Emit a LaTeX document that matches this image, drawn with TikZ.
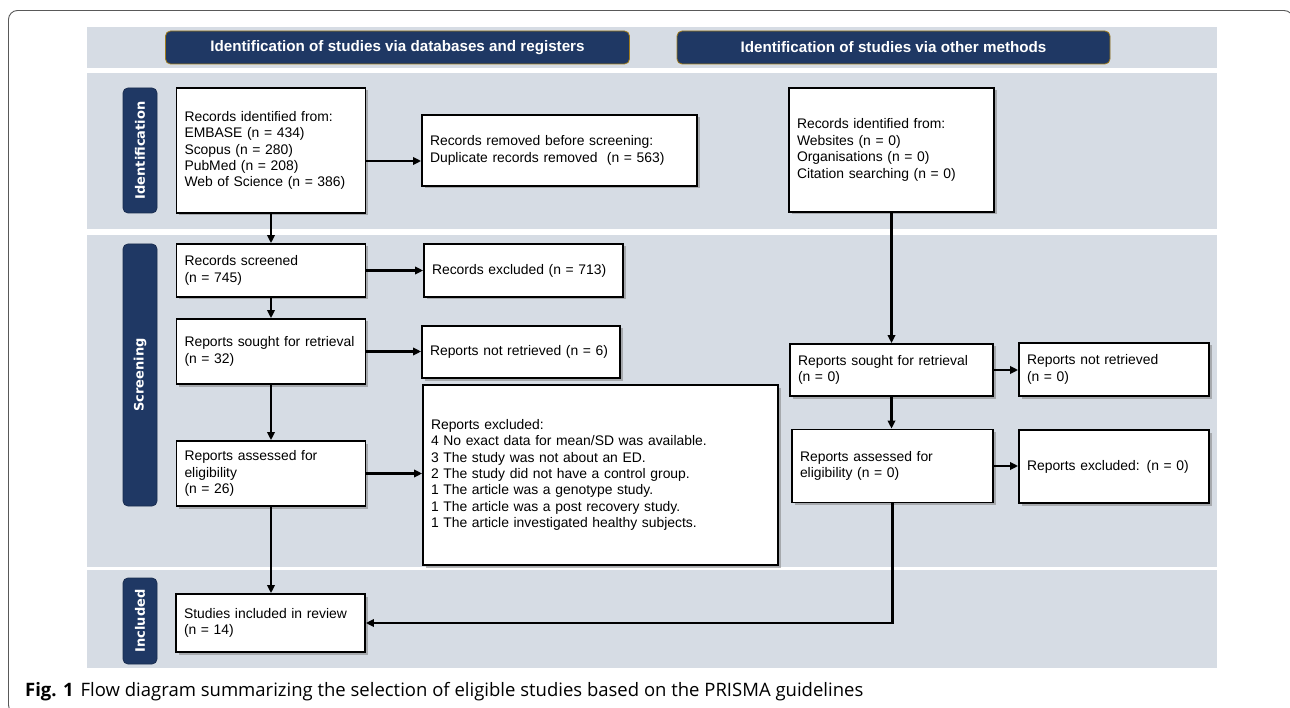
\documentclass[tikz,border=0pt]{standalone}
\usepackage{fontspec}
\setmainfont{Liberation Sans}
\newfontfamily\lblfont{DejaVu Sans}
\newfontfamily\capfont{Open Sans}
\usetikzlibrary{arrows.meta,shadows,calc}
\definecolor{band}{HTML}{D6DCE4}
\definecolor{navy}{HTML}{1F3864}
\definecolor{gold}{HTML}{A07C1C}
\begin{document}
\begin{tikzpicture}[x=1pt,y=-1pt,
  bx/.style={draw=black, line width=1.8pt, fill=white, align=left,
    inner xsep=8pt, inner ysep=2pt,
    font=\fontsize{13.9}{16.4}\selectfont,
    drop shadow={shadow xshift=2.5pt, shadow yshift=-2.5pt, fill=black!50, opacity=0.55}},
  hpill/.style={draw=gold, line width=0.8pt, fill=navy, rounded corners=5pt,
    text=white, font=\bfseries\fontsize{15.2}{17}\selectfont, minimum height=33pt},
  vpill/.style={draw=navy!80!black, line width=0.8pt, fill=navy, rounded corners=5pt,
    text=white, rotate=90, font=\lblfont\bfseries\fontsize{13}{15}\selectfont, minimum height=34pt},
  bandbox/.style={fill=band, draw=none},
  arr/.style={line width=2.5pt, -{Triangle[length=8pt,width=7.5pt]}}]
\useasboundingbox (0,0) rectangle (1290,708);
\clip (0,0) rectangle (1290,708);
\fill[white] (0,0) rectangle (1290,708);
\draw[black!65, line width=0.9pt, rounded corners=9pt] (8.5,10.5) rectangle (1293,714);
% bands
\fill[bandbox] (87,27) rectangle (1217,68);
\fill[bandbox] (87,73) rectangle (1217,229);
\fill[bandbox] (87,235) rectangle (1217,567);
\fill[bandbox] (87,570) rectangle (1217,668);
% header pills
\node[hpill, minimum width=464pt] (h1) at (397.5,47.5) {Identification of studies via databases and registers};
\node[hpill, minimum width=433pt] (h2) at (893.5,47.5) {Identification of studies via other methods};
% vertical pills
\node[vpill, minimum width=125pt] (pid) at (140,150.5) {Identification};
\node[vpill, minimum width=262pt] (pscr) at (140,375) {Screening};
\node[vpill, minimum width=86pt] (pinc) at (140,621) {Included};
% boxes
\node[bx, minimum width=189pt, minimum height=125pt, text width=173pt] (rid) at (271,150.5)
  {Records identified from:\\EMBASE (n = 434)\\Scopus (n = 280)\\PubMed (n = 208)\\Web of Science (n = 386)};
\node[bx, minimum width=275pt, minimum height=71pt, text width=259pt] (rem) at (559.5,150.5)
  {Records removed before screening:\\Duplicate records removed\ \ (n = 563)};
\node[bx, minimum width=205pt, minimum height=124pt, text width=189pt] (oth) at (891.5,150)
  {Records identified from:\\Websites (n = 0)\\Organisations (n = 0)\\Citation searching (n = 0)};
\node[bx, minimum width=189pt, minimum height=53pt, text width=173pt] (scr) at (271,270.5)
  {Records screened\\(n = 745)};
\node[bx, minimum width=199pt, minimum height=53pt, text width=183pt] (rex) at (523.5,270.5)
  {Records excluded (n = 713)};
\node[bx, minimum width=189pt, minimum height=65pt, text width=173pt] (sou) at (271,351.5)
  {Reports sought for retrieval\\(n = 32)};
\node[bx, minimum width=198pt, minimum height=52pt, text width=182pt] (nret) at (521,352)
  {Reports not retrieved (n = 6)};
\node[bx, minimum width=355pt, minimum height=180pt, text width=339pt] (exc) at (600.5,475)
  {Reports excluded:\\4 No exact data for mean/SD was available.\\3 The study was not about an ED.\\2 The study did not have a control group.\\1 The article was a genotype study.\\1 The article was a post recovery study.\\1 The article investigated healthy subjects.};
\node[bx, minimum width=189pt, minimum height=65pt, text width=173pt] (ass) at (271,473.5)
  {Reports assessed for\\eligibility\\(n = 26)};
\node[bx, minimum width=203pt, minimum height=52pt, text width=187pt] (osou) at (891.5,370)
  {Reports sought for retrieval\\(n = 0)};
\node[bx, minimum width=190pt, minimum height=53pt, text width=174pt] (onret) at (1114,369.5)
  {Reports not retrieved\\(n = 0)};
\node[bx, minimum width=201pt, minimum height=73pt, text width=185pt] (oass) at (892.5,466)
  {Reports assessed for\\eligibility (n = 0)};
\node[bx, minimum width=190pt, minimum height=73pt, text width=174pt] (oexc) at (1114,466.5)
  {Reports excluded: (n = 0)};
\node[bx, minimum width=189pt, minimum height=58pt, text width=173pt] (inc) at (270.5,623)
  {Studies included in review\\(n = 14)};
% connectors
\coordinate (r1) at ([yshift=-10.5pt]rid.east);
\draw[arr] (r1) -- (r1 -| rem.west);
\draw[arr] (rid.south) -- (rid.south |- scr.north);
\draw[arr] (scr.east) -- (scr.east -| rex.west);
\draw[arr] (scr.south) -- (scr.south |- sou.north);
\draw[arr] (sou.east) -- (sou.east -| nret.west);
\draw[arr] (sou.south) -- (sou.south |- ass.north);
\draw[arr] (ass.east) -- (ass.east -| exc.west);
\draw[arr] (ass.south) -- (ass.south |- inc.north);
\draw[arr] (oth.south) -- (oth.south |- osou.north);
\draw[arr] (osou.east) -- (osou.east -| onret.west);
\draw[arr] (osou.south) -- (osou.south |- oass.north);
\draw[arr] (oass.east) -- (oass.east -| oexc.west);
\draw[arr] (oass.south) |- (inc.east);
% caption
\node[anchor=base west, inner sep=0pt] (cap) at (25,696)
  {\capfont\fontsize{18.5}{21}\selectfont\textbf{Fig. 1}\hspace{7pt}Flow diagram summarizing the selection of eligible studies based on the PRISMA guidelines};
\end{tikzpicture}
\end{document}
